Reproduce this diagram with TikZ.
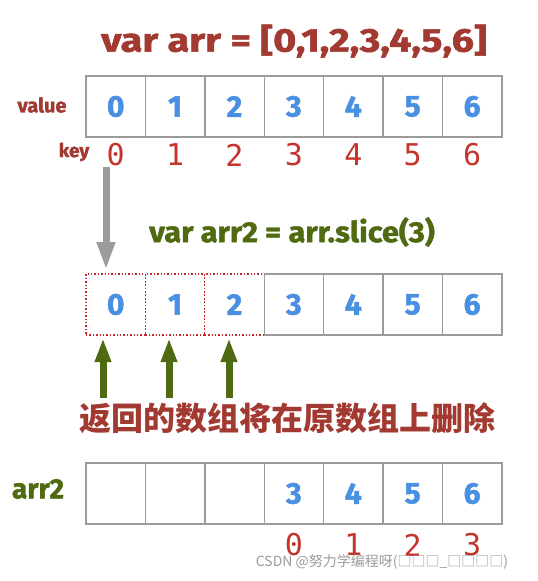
\documentclass[tikz,border=0pt]{standalone}
\usepackage{fontspec}
\usepackage{graphicx}
\setmainfont{Fira Sans}
\IfFontExistsTF{Fira Sans Heavy}{\newfontfamily\heavy{Fira Sans Heavy}}{\newfontfamily\heavy{Fira Sans Bold}[FakeBold=1.5]}
\newfontfamily\monof{DejaVu Sans Mono}
\newfontfamily\cjk{Noto Sans CJK SC}
\usetikzlibrary{arrows.meta}
\definecolor{titlered}{RGB}{163,58,50}
\definecolor{numblue}{RGB}{74,144,226}
\definecolor{keyred}{RGB}{196,52,44}
\definecolor{olive}{RGB}{79,106,16}
\definecolor{boxgray}{RGB}{155,155,155}
\definecolor{dotred}{RGB}{200,40,40}
\tikzset{
  cell/.style={draw=boxgray, line width=1.4pt, minimum width=59.4pt, minimum height=61pt,
    inner sep=0pt, outer sep=0pt, text=numblue, font=\heavy\fontsize{30}{30}\selectfont},
  dcell/.style={cell, draw=dotred, dotted, line width=1.3pt},
  keynum/.style={text=keyred, font=\monof\fontsize{30}{30}\selectfont, inner sep=0pt},
  grayarrow/.style={draw=boxgray, line width=7pt, -{Triangle[length=28pt,width=17pt]}},
  greenarrow/.style={draw=olive, line width=7pt, -{Triangle[length=24pt,width=15pt]}},
  lbl/.style={inner sep=0pt},
}
\begin{document}
\begin{tikzpicture}[x=1pt,y=-1pt]
\useasboundingbox (0,0) rectangle (538,581);
\fill[white] (0,0) rectangle (538,581);
% title
\node[lbl, text=titlered, font=\heavy\fontsize{33}{33}\selectfont] (title) at (294,41) {\scalebox{1.2}[1]{var arr = [0,1,2,3,4,5,6]}};
% row 1
\node[lbl, text=titlered, font=\heavy\fontsize{20}{20}\selectfont] (valuelbl) at (42,105) {value};
\node[lbl, text=titlered, font=\heavy\fontsize{19}{19}\selectfont] (keylbl) at (74,152) {key};
\foreach \i in {0,...,6} {
  \node[cell] (a\i) at ({115.7+59.4*\i},106.5) {\i};
  \node[keynum] (k\i) at ({115.7+59.4*\i},155) {\i};
}
% slice text
\node[lbl, text=olive, font=\heavy\fontsize{29}{29}\selectfont] (slicetxt) at (292,232) {\scalebox{1.06}[1]{var arr2 = arr.slice(3)}};
% row 2
\foreach \i in {0,1,2} {
  \node[dcell] (b\i) at ({115.7+59.4*\i},304.5) {\i};
}
\foreach \i in {3,...,6} {
  \node[cell] (b\i) at ({115.7+59.4*\i},304.5) {\i};
}
% gray arrow
\coordinate (gs) at (106,167);
\coordinate (ge) at (106,270);
\draw[grayarrow] (gs) -- (ge);
% green arrows
\foreach \x [count=\j] in {103,169,229} {
  \coordinate (gb\j) at (\x,398);
  \coordinate (gt\j) at (\x,338);
  \draw[greenarrow] (gb\j) -- (gt\j);
}
% chinese text
\node[lbl, text=titlered, font=\cjk\fontsize{32}{32}\selectfont\bfseries] (cntxt) at (287,418) {返回的数组将在原数组上删除};
% row 3
\node[lbl, text=olive, font=\heavy\fontsize{28}{28}\selectfont] (arrlbl) at (38,489) {arr2};
\foreach \i in {0,...,6} {
  \node[cell] (c\i) at ({115.7+59.4*\i},493.5) {};
}
\foreach \i/\k in {3/0,4/1,5/2,6/3} {
  \node[text=numblue, font=\heavy\fontsize{30}{30}\selectfont] at (c\i) {\i};
  \node[keynum] (m\k) at ({115.7+59.4*\i},545) {\k};
}
% watermark
\node[lbl, text=boxgray, font=\cjk\fontsize{14}{14}\selectfont] (wm) at (382,562) {CSDN @努力学编程呀(□□□\_□□□□)};
\end{tikzpicture}
\end{document}
